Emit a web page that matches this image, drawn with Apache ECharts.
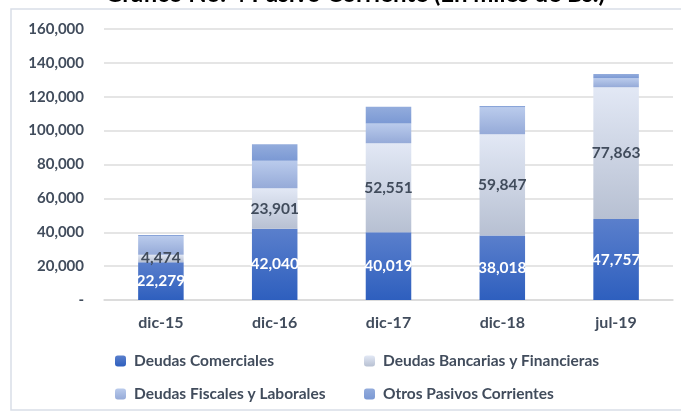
<!DOCTYPE html>
<html>
<head>
<meta charset="utf-8">
<script src="https://cdn.jsdelivr.net/npm/echarts@6/dist/echarts.min.js"></script>
<style>
  html, body { margin: 0; padding: 0; background: #fff; }
  #chart { width: 681px; height: 413px; }
</style>
</head>
<body>
<div id="chart"></div>
<script>
let categories = ['dic-15', 'dic-16', 'dic-17', 'dic-18', 'jul-19'];
let comerciales = [22279, 42040, 40019, 38018, 47757];
let bancarias = [4474, 23901, 52551, 59847, 77863];
let fiscales = [11000, 16300, 11700, 15900, 5300];
let otros = [600, 9700, 9800, 800, 2500];
let yTicks = [0, 20000, 40000, 60000, 80000, 100000, 120000, 140000, 160000];

let font = 'Lato, "Open Sans", sans-serif';
let textColor = '#414c5c';

function grad(top, bottom) {
    return new echarts.graphic.LinearGradient(0, 0, 0, 1, [
        { offset: 0, color: top },
        { offset: 1, color: bottom }
    ]);
}

function fmt(v) {
    return v === 0 ? '-' : v.toLocaleString('en-US');
}

let chart = echarts.init(document.getElementById('chart'));
let labelBase = {
    show: true,
    position: 'inside',
    fontFamily: font,
    fontWeight: 'bold',
    fontSize: 15.5,
    formatter: function (p) { return fmt(p.value); }
};
let legendText = {
    color: textColor, fontFamily: font, fontWeight: 'bold', fontSize: 15.5,
    padding: [0, 0, 0, 3]
};

let option = {
    animation: false,
    graphic: [
        {
            type: 'rect',
            shape: { x: 11, y: 9, width: 720, height: 401 },
            style: { fill: 'none', stroke: '#d9dee7', lineWidth: 1.5 },
            z: -1
        },
        {
            type: 'text',
            x: 355,
            y: -18,
            style: {
                text: 'Gráfico No. 4 Pasivo Corriente (En miles de Bs.)',
                font: 'bold 24px ' + font,
                fill: '#000',
                textAlign: 'center'
            }
        }
    ],
    grid: { left: 104, right: 8, top: 29, bottom: 113 },
    legend: [
        {
            left: 110, top: 348, orient: 'vertical', itemGap: 17,
            itemWidth: 11, itemHeight: 11,
            textStyle: legendText,
            data: ['Deudas Comerciales', 'Deudas Fiscales y Laborales']
        },
        {
            left: 359, top: 348, orient: 'vertical', itemGap: 17,
            itemWidth: 11, itemHeight: 11,
            textStyle: legendText,
            data: ['Deudas Bancarias y Financieras', 'Otros Pasivos Corrientes']
        }
    ],
    xAxis: {
        type: 'category',
        data: categories,
        axisLine: { lineStyle: { color: '#d9d9d9', width: 1.5 } },
        axisTick: { show: false },
        axisLabel: { color: textColor, fontFamily: font, fontWeight: 'bold', fontSize: 16, margin: 15 }
    },
    yAxis: {
        type: 'value',
        min: yTicks[0],
        max: yTicks[yTicks.length - 1],
        interval: yTicks[1] - yTicks[0],
        axisLine: { show: false },
        axisTick: { show: false },
        splitLine: { lineStyle: { color: '#dcdcdc', width: 1.5 } },
        axisLabel: {
            color: textColor, fontFamily: font, fontWeight: 'bold', fontSize: 15, margin: 20,
            formatter: fmt
        }
    },
    series: [
        {
            name: 'Deudas Comerciales', type: 'bar', stack: 'total', barWidth: '40%',
            data: comerciales,
            itemStyle: { color: grad('#5a7fcc', '#2e5fbe') },
            label: Object.assign({}, labelBase, { color: '#fff' })
        },
        {
            name: 'Deudas Bancarias y Financieras', type: 'bar', stack: 'total',
            data: bancarias,
            itemStyle: { color: grad('#e2e8f5', '#b7c0d2') },
            label: Object.assign({}, labelBase, { color: textColor })
        },
        {
            name: 'Deudas Fiscales y Laborales', type: 'bar', stack: 'total',
            data: fiscales,
            itemStyle: { color: grad('#bacbec', '#95aad8') }
        },
        {
            name: 'Otros Pasivos Corrientes', type: 'bar', stack: 'total',
            data: otros,
            itemStyle: { color: grad('#93acdc', '#7b99d4') }
        }
    ]
};
chart.setOption(option);
</script>
</body>
</html>
